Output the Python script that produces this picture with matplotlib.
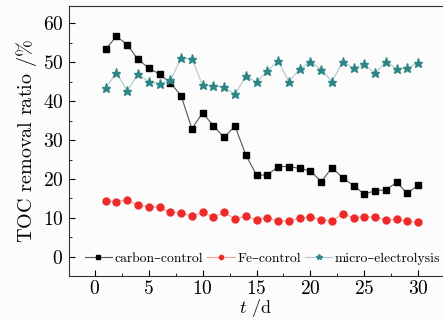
import numpy as np
import matplotlib
matplotlib.use('Agg')
from matplotlib import pyplot as plt
from matplotlib.ticker import MultipleLocator

plt.rcParams['font.family'] = ['cmr10', 'DejaVu Serif']
plt.rcParams['axes.formatter.use_mathtext'] = True
plt.rcParams['mathtext.fontset'] = 'cm'

days = list(range(1, 31))
carbon_control = [53.3, 56.6, 54.5, 50.7, 48.5, 46.9, 44.7, 41.4, 32.9, 37.0,
                  33.6, 30.7, 33.6, 26.2, 21.0, 21.0, 23.2, 23.2, 22.7, 22.1,
                  19.3, 22.9, 20.3, 18.3, 16.1, 17.0, 17.2, 19.1, 16.3, 18.5]
fe_control = [14.4, 14.2, 14.6, 13.3, 12.9, 12.7, 11.5, 11.2, 10.5, 11.4,
              10.3, 11.4, 9.7, 10.5, 9.5, 10.1, 9.1, 9.3, 9.9, 10.3,
              9.5, 9.2, 11.0, 10.1, 10.2, 10.3, 9.5, 9.7, 9.1, 8.9]
micro_electrolysis = [43.3, 47.3, 42.6, 46.9, 44.9, 44.5, 45.3, 51.0, 50.9, 44.0,
                      43.9, 43.6, 41.7, 46.4, 44.8, 47.7, 50.3, 45.0, 48.2, 50.1,
                      48.1, 45.0, 50.1, 48.5, 49.4, 47.1, 50.1, 48.3, 48.5, 49.8]

fig = plt.figure(figsize=(4.43, 3.2), dpi=100, facecolor='#fcfcfc')
ax = fig.add_axes([69 / 443, 44 / 320, 1 - 69 / 443, 270 / 320])
ax.set_facecolor('#fcfcfc')

ax.plot(days, carbon_control, color='#555555', lw=0.8, marker='s', ms=4.5,
        mfc='black', mec='black', label='carbon\u2013control')
ax.plot(days, fe_control, color='#f4a397', lw=0.8, marker='o', ms=5,
        mfc='#ee2a2a', mec='#ee2a2a', label='Fe\u2013control')
ax.plot(days, micro_electrolysis, color='#b0c8c8', lw=0.8, marker='*', ms=6.5,
        mfc='#2d8585', mec='#2d8585', label='micro\u2013electrolysis')

ax.set_xlim(-2.4, 32.3)
ax.set_ylim(-4.9, 64.4)
ax.xaxis.set_major_locator(MultipleLocator(5))
ax.xaxis.set_minor_locator(MultipleLocator(2.5))
ax.yaxis.set_major_locator(MultipleLocator(10))
ax.yaxis.set_minor_locator(MultipleLocator(5))
ax.tick_params(which='both', direction='in', labelsize=14, pad=4)
ax.tick_params(axis='x', pad=3)
ax.tick_params(which='major', length=4)
ax.tick_params(which='minor', length=2)
ax.spines['right'].set_visible(False)
for s in ax.spines.values():
    s.set_color('#333333')

ax.set_xlabel('$t$ /d', fontsize=13, labelpad=-0.5)
ax.set_ylabel('TOC removal ratio /$\\%$', fontsize=14.5, labelpad=3)

ax.legend(loc='lower right', bbox_to_anchor=(0.997, 0.035), ncol=3, frameon=False,
          fontsize=9.8, handlelength=2.0, handletextpad=0.2, columnspacing=0.3,
          markerscale=0.6, borderaxespad=0.0, borderpad=0.1)

plt.savefig('out.png', dpi=100, facecolor=fig.get_facecolor())
